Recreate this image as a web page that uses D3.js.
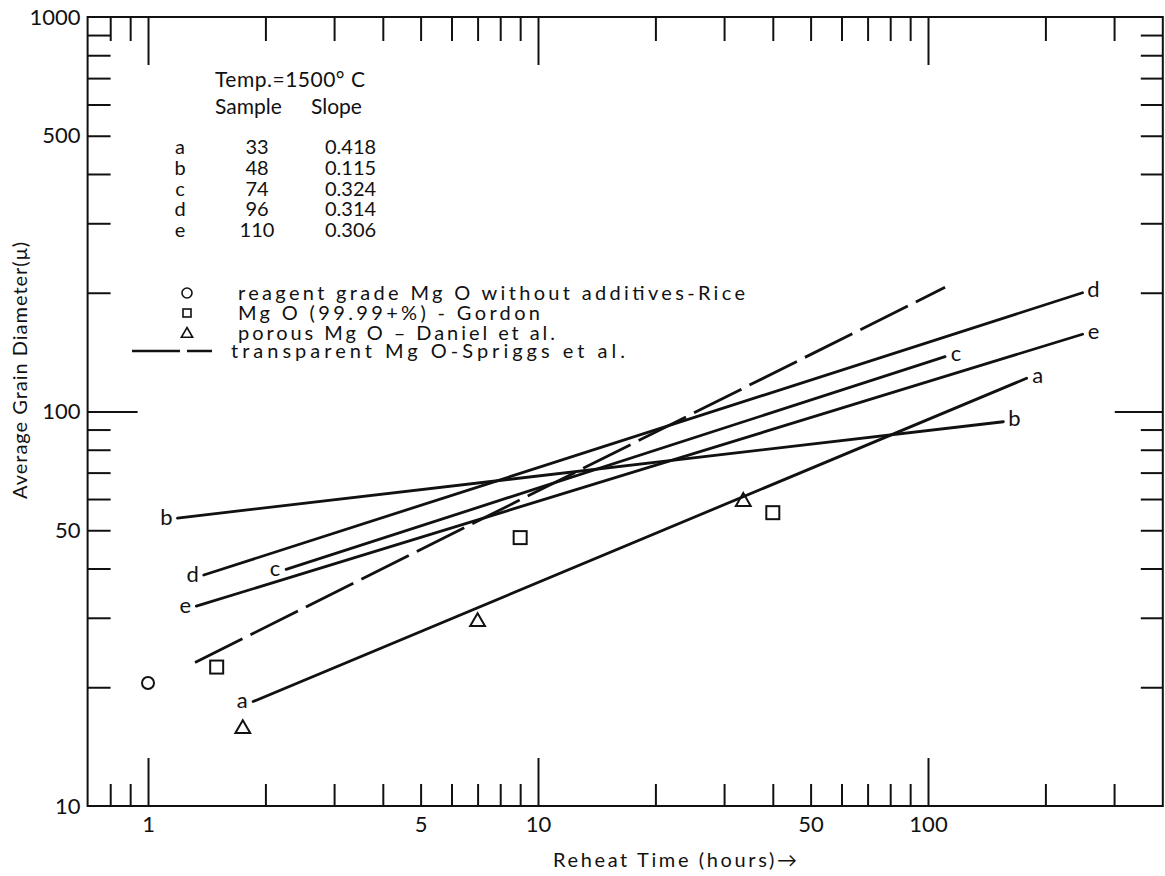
<!DOCTYPE html>
<html>
<head>
<meta charset="utf-8">
<script src="https://cdn.jsdelivr.net/npm/d3@7"></script>
<style>
  body { margin: 0; background: #fff; }
  svg { display: block; }
  text { font-family: Lato, "Open Sans", sans-serif; fill: #111; }
</style>
</head>
<body>
<div id="chart"></div>
<script>
// fitted lines (start / end of each drawn segment)
const lineNames = ["a", "b", "c", "d", "e"];
const lineStartTime = [1.86, 1.19, 2.26, 1.39, 1.33];
const lineStartDiam = [18.4, 53.7, 39.8, 38.5, 32.1];
const lineEndTime = [179, 156, 110.6, 249, 249];
const lineEndDiam = [121.4, 94.2, 137.7, 200, 157];

// transparent MgO - Spriggs et al. (dashed)
const spriggsTime = [1.32, 110.6];
const spriggsDiam = [23.1, 206.5];

// points
const riceTime = [1];
const riceDiam = [20.5];
const gordonTime = [1.5, 9, 40];
const gordonDiam = [22.5, 47.9, 55.4];
const danielTime = [1.75, 7, 33.6];
const danielDiam = [15.7, 29.3, 59.1];

// table in the legend
const sampleNums = ["33", "48", "74", "96", "110"];
const sampleSlopes = ["0.418", "0.115", "0.324", "0.314", "0.306"];

// ticks
const xMajor = [1, 10, 100];
const xMinor = [0.8, 0.9, 2, 3, 4, 5, 6, 7, 8, 9, 20, 30, 40, 50, 60, 70, 80, 90, 200, 300];
const xLabels = [1, 5, 10, 50, 100];
const yMajor = [100];
const yMinor = [20, 30, 40, 50, 60, 70, 80, 90, 200, 300, 400, 500, 600, 700, 800, 900];
const yLabels = [10, 50, 100, 500, 1000];

const W = 1165, H = 876;
const svg = d3.select("#chart").append("svg")
    .attr("width", W)
    .attr("height", H);

const x = d3.scaleLog().domain([0.7, 400]).range([87.6, 1162.8]);
const y = d3.scaleLog().domain([10, 1000]).range([806, 17]);

const plotLeft = x.range()[0], plotRight = x.range()[1];
const plotTop = y.range()[1], plotBottom = y.range()[0];

// ticks, all pointing inward
function tickAxis(axis, tx, ty, values, size) {
    const g = svg.append("g")
        .attr("transform", "translate(" + tx + "," + ty + ")")
        .call(axis.tickValues(values).tickSize(size).tickFormat(""));
    g.select(".domain").remove();
    g.selectAll("line").attr("stroke", "#111").attr("stroke-width", 2);
}
tickAxis(d3.axisBottom(x), 0, plotBottom, xMinor, -22);
tickAxis(d3.axisBottom(x), 0, plotBottom, xMajor, -48);
tickAxis(d3.axisTop(x), 0, plotTop, xMinor, -24);
tickAxis(d3.axisTop(x), 0, plotTop, xMajor, -48);
tickAxis(d3.axisLeft(y), plotLeft, 0, yMinor, -23);
tickAxis(d3.axisLeft(y), plotLeft, 0, yMajor, -50);
tickAxis(d3.axisRight(y), plotRight, 0, yMinor, -22);
tickAxis(d3.axisRight(y), plotRight, 0, yMajor, -48);

// frame
svg.append("rect")
    .attr("x", plotLeft).attr("y", plotTop)
    .attr("width", plotRight - plotLeft).attr("height", plotBottom - plotTop)
    .attr("fill", "none").attr("stroke", "#111").attr("stroke-width", 2);

// tick labels
const xl = svg.append("g")
    .attr("transform", "translate(0," + plotBottom + ")")
    .call(d3.axisBottom(x).tickValues(xLabels).tickSize(0).tickPadding(10).tickFormat(d3.format("d")));
xl.select(".domain").remove();
xl.selectAll("text").style("font-size", "22px").style("font-family", "Lato").attr("fill", "#111");

const yl = svg.append("g")
    .attr("transform", "translate(" + plotLeft + ",0)")
    .call(d3.axisLeft(y).tickValues(yLabels).tickSize(0).tickPadding(7).tickFormat(d3.format("d")));
yl.select(".domain").remove();
yl.selectAll("text").style("font-size", "22px").style("font-family", "Lato").attr("fill", "#111");

// axis titles
svg.append("text")
    .attr("x", 553).attr("y", 867)
    .attr("textLength", 244).attr("lengthAdjust", "spacing")
    .style("font-size", "20px")
    .text("Reheat Time (hours)\u2192");

svg.append("text")
    .attr("transform", "translate(27,499) rotate(-90)")
    .attr("textLength", 257).attr("lengthAdjust", "spacing")
    .style("font-size", "20px")
    .text("Average Grain Diameter(\u03bc)");

// fitted lines
const lineData = lineNames.map(function(n, i) {
    return {name: n, t0: lineStartTime[i], d0: lineStartDiam[i], t1: lineEndTime[i], d1: lineEndDiam[i]};
});

svg.selectAll(".fit")
    .data(lineData)
    .enter()
    .append("line")
    .attr("class", "fit")
    .attr("x1", function(d) { return x(d.t0); })
    .attr("y1", function(d) { return y(d.d0); })
    .attr("x2", function(d) { return x(d.t1); })
    .attr("y2", function(d) { return y(d.d1); })
    .attr("stroke", "#111")
    .attr("stroke-width", 2.8)
    .attr("stroke-linecap", "round");

// line labels at both ends
svg.selectAll(".startLabel")
    .data(lineData)
    .enter()
    .append("text")
    .attr("x", function(d) { return x(d.t0) - 11; })
    .attr("y", function(d) { return y(d.d0); })
    .attr("dy", "0.3em")
    .attr("text-anchor", "middle")
    .style("font-size", "22px")
    .text(function(d) { return d.name; });

svg.selectAll(".endLabel")
    .data(lineData)
    .enter()
    .append("text")
    .attr("x", function(d) { return x(d.t1) + 11; })
    .attr("y", function(d) { return y(d.d1) - 2; })
    .attr("dy", "0.3em")
    .attr("text-anchor", "middle")
    .style("font-size", "22px")
    .text(function(d) { return d.name; });

// Spriggs dashed line
svg.append("path")
    .datum(spriggsTime.map(function(t, i) { return [t, spriggsDiam[i]]; }))
    .attr("d", d3.line().x(function(d) { return x(d[0]); }).y(function(d) { return y(d[1]); }))
    .attr("fill", "none")
    .attr("stroke", "#111")
    .attr("stroke-width", 2.8)
    .attr("stroke-dasharray", "53,9");

// markers
svg.selectAll(".rice")
    .data(riceTime)
    .enter()
    .append("circle")
    .attr("cx", function(d) { return x(d); })
    .attr("cy", function(d, i) { return y(riceDiam[i]); })
    .attr("r", 6)
    .attr("fill", "none").attr("stroke", "#111").attr("stroke-width", 2);

svg.selectAll(".gordon")
    .data(gordonTime)
    .enter()
    .append("rect")
    .attr("x", function(d) { return x(d) - 6.5; })
    .attr("y", function(d, i) { return y(gordonDiam[i]) - 6.5; })
    .attr("width", 13).attr("height", 13)
    .attr("fill", "none").attr("stroke", "#111").attr("stroke-width", 2);

const tri = d3.symbol().type(d3.symbolTriangle).size(95);
svg.selectAll(".daniel")
    .data(danielTime)
    .enter()
    .append("path")
    .attr("d", tri)
    .attr("transform", function(d, i) { return "translate(" + x(d) + "," + y(danielDiam[i]) + ")"; })
    .attr("fill", "none").attr("stroke", "#111").attr("stroke-width", 2);

// legend: table
const leg = svg.append("g");
leg.append("text").attr("x", 215).attr("y", 87)
    .attr("textLength", 150).attr("lengthAdjust", "spacing")
    .style("font-size", "21px").text("Temp.=1500\u00b0 C");
leg.append("text").attr("x", 215).attr("y", 114).style("font-size", "21px").text("Sample");
leg.append("text").attr("x", 311).attr("y", 114).style("font-size", "21px").text("Slope");

lineNames.forEach(function(n, i) {
    const ty = 154 + i * 20.8;
    leg.append("text").attr("x", 180).attr("y", ty).attr("text-anchor", "middle").style("font-size", "20px").text(n);
    leg.append("text").attr("x", 257).attr("y", ty).attr("text-anchor", "middle").style("font-size", "20px").text(sampleNums[i]);
    leg.append("text").attr("x", 325).attr("y", ty).style("font-size", "20px").text(sampleSlopes[i]);
});

// legend: symbols
leg.append("circle").attr("cx", 187).attr("cy", 293).attr("r", 5)
    .attr("fill", "none").attr("stroke", "#111").attr("stroke-width", 1.6);
leg.append("rect").attr("x", 183).attr("y", 309).attr("width", 8).attr("height", 8)
    .attr("fill", "none").attr("stroke", "#111").attr("stroke-width", 1.6);
leg.append("path").attr("d", d3.symbol().type(d3.symbolTriangle).size(55))
    .attr("transform", "translate(187,334)")
    .attr("fill", "none").attr("stroke", "#111").attr("stroke-width", 1.6);
leg.append("line").attr("x1", 132).attr("x2", 212).attr("y1", 351).attr("y2", 351)
    .attr("stroke", "#111").attr("stroke-width", 2.4).attr("stroke-dasharray", "48,7,26");

const legendTexts = [
    ["reagent grade Mg O without additives-Rice", 238, 300, 507],
    ["Mg O (99.99+%) - Gordon", 238, 320, 302],
    ["porous Mg O \u2013 Daniel et al.", 238, 340, 317],
    ["transparent Mg O-Spriggs et al.", 231, 358, 394]
];
legendTexts.forEach(function(t) {
    leg.append("text")
        .attr("x", t[1]).attr("y", t[2])
        .attr("textLength", t[3]).attr("lengthAdjust", "spacing")
        .style("font-size", "20px")
        .text(t[0]);
});
</script>
</body>
</html>
